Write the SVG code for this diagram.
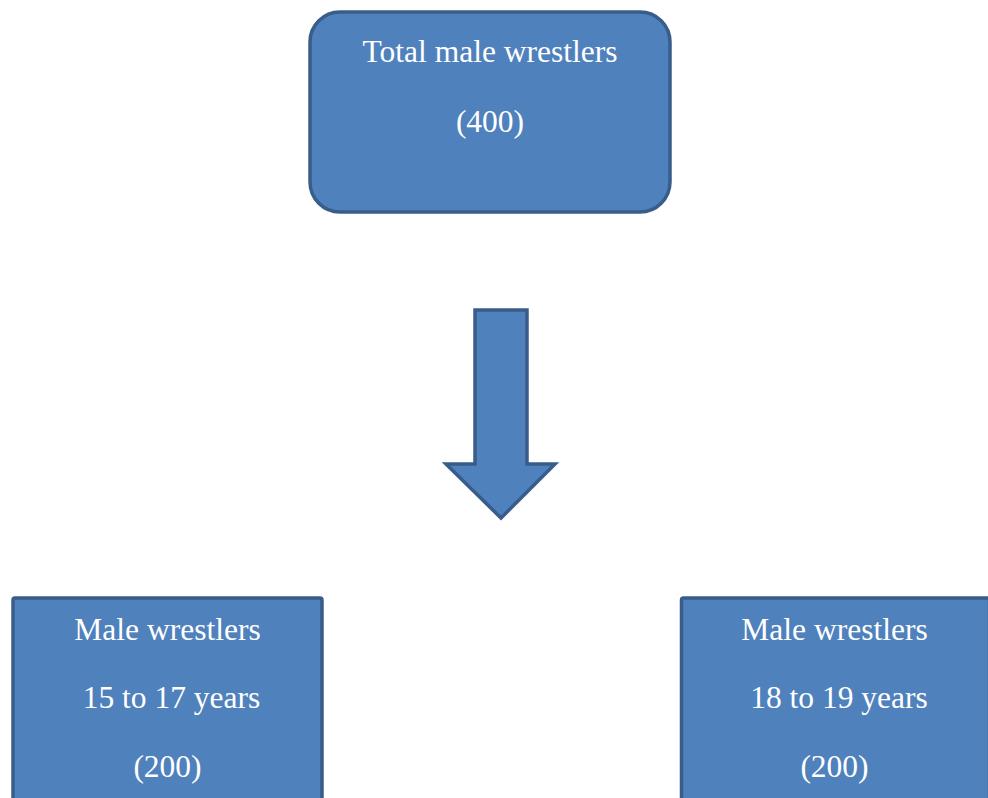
<svg xmlns="http://www.w3.org/2000/svg" width="988" height="798" viewBox="0 0 988 798">
<style>
.box{fill:#4f81bd;stroke:#385d8a;stroke-width:3.5}
text{font-family:'Liberation Serif','DejaVu Serif',serif;font-size:31.5px;fill:#ffffff;text-anchor:middle}
</style>
<rect width="988" height="798" fill="#ffffff"/>
<g id="total">
<rect class="box" x="310" y="12" width="360" height="200" rx="30" ry="30"/>
<text x="490" y="62">Total male wrestlers</text>
<text x="490" y="132">(400)</text>
</g>
<g id="connectors">
<path class="box" d="M475 310 H527 V464 H555 L501 518 L446 464 H475 Z"/>
</g>
<g id="young">
<rect class="box" x="13" y="598" width="309" height="220" rx="2"/>
<text x="167.5" y="640">Male wrestlers</text>
<text x="171.5" y="708">15 to 17 years</text>
<text x="167.5" y="777">(200)</text>
</g>
<g id="older">
<rect class="box" x="681.5" y="598" width="308" height="220" rx="2"/>
<text x="834.5" y="640">Male wrestlers</text>
<text x="839" y="708">18 to 19 years</text>
<text x="834.5" y="777">(200)</text>
</g>
</svg>
